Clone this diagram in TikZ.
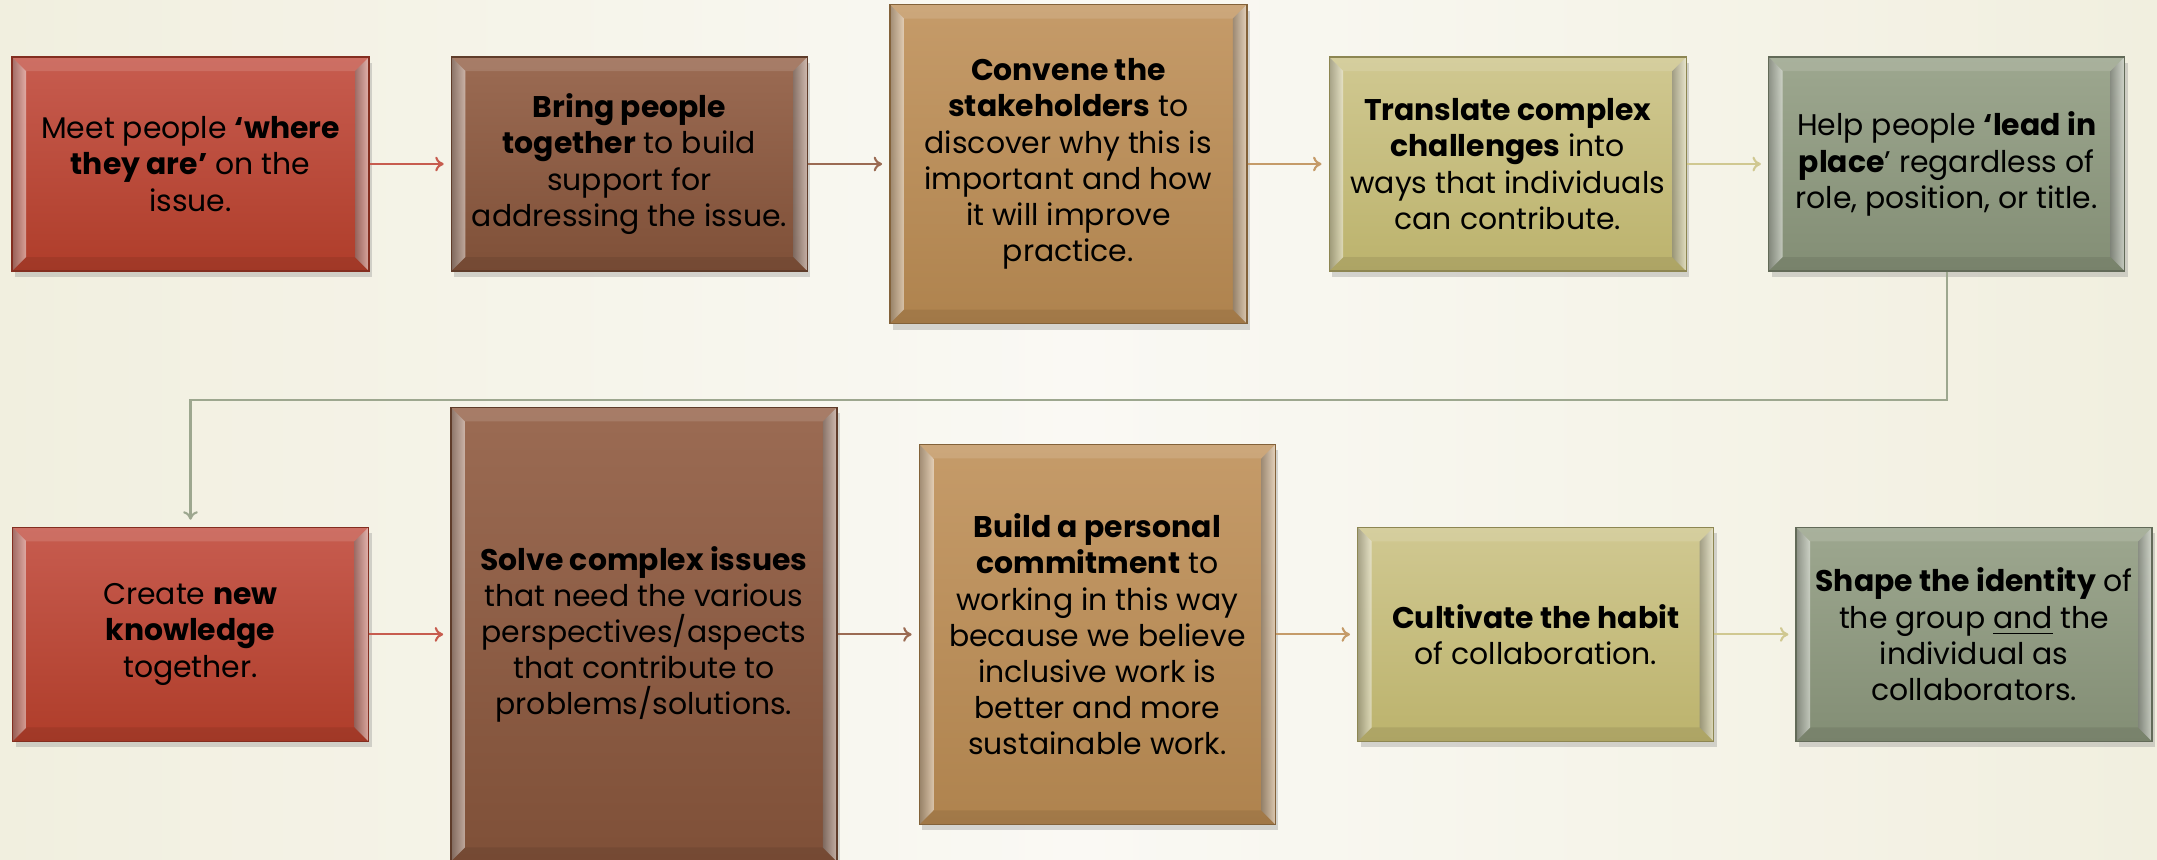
\documentclass[tikz,border=0pt]{standalone}
\usepackage{fontspec}
\setmainfont{Poppins}
\usetikzlibrary{positioning,shadows,arrows.meta}

\definecolor{bgside}{HTML}{F1EFDF}
\definecolor{bgmid}{HTML}{FAF9F4}
\definecolor{red1}{HTML}{C75C4F}\definecolor{red2}{HTML}{AF3D2A}
\definecolor{brown1}{HTML}{9B6B53}\definecolor{brown2}{HTML}{7F5038}
\definecolor{tan1}{HTML}{C59B69}\definecolor{tan2}{HTML}{AF834E}
\definecolor{khaki1}{HTML}{D0C891}\definecolor{khaki2}{HTML}{BCB36D}
\definecolor{sage1}{HTML}{9DA78F}\definecolor{sage2}{HTML}{838E75}

\begin{document}
\begin{tikzpicture}[>={To[length=2.4pt,width=4.2pt]},shorten >=2pt,node distance=8.1mm,
  bevel/.style={path picture={
      \coordinate (nw) at (path picture bounding box.north west);
      \coordinate (ne) at (path picture bounding box.north east);
      \coordinate (sw) at (path picture bounding box.south west);
      \coordinate (se) at (path picture bounding box.south east);
      \coordinate (inw) at ([shift={(1.4mm,-1.4mm)}]nw);
      \coordinate (ine) at ([shift={(-1.4mm,-1.4mm)}]ne);
      \coordinate (isw) at ([shift={(1.4mm,1.4mm)}]sw);
      \coordinate (ise) at ([shift={(-1.4mm,1.4mm)}]se);
      \fill[white,opacity=.12] (nw) -- (ne) -- (ine) -- (inw) -- cycle;
      \fill[black,opacity=.08] (sw) -- (se) -- (ise) -- (isw) -- cycle;
      \shade[left color=black!50,right color=white,opacity=.5] (nw) -- (inw) -- (isw) -- (sw) -- cycle;
      \shade[left color=black!50,right color=white,opacity=.55] (ine) -- (ne) -- (se) -- (ise) -- cycle;
    }},
  box/.style={rectangle,draw,line width=.4pt,minimum width=35.6mm,minimum height=21.4mm,inner sep=0pt,
    align=center,font=\fontsize{8.5}{10.3}\selectfont,text=black,
    drop shadow={opacity=.3,shadow xshift=.3mm,shadow yshift=-.6mm},bevel},
  red box/.style={box,top color=red1,bottom color=red2,draw=red2!75!black},
  brown box/.style={box,top color=brown1,bottom color=brown2,draw=brown2!75!black},
  tan box/.style={box,top color=tan1,bottom color=tan2,draw=tan2!75!black},
  khaki box/.style={box,top color=khaki1,bottom color=khaki2,draw=khaki2!75!black},
  sage box/.style={box,top color=sage1,bottom color=sage2,draw=sage2!75!black},
  link/.style={->,line width=.6pt}]

  % background
  \useasboundingbox (0,0) rectangle (215.7mm,-85.9mm);
  \fill[left color=bgside,right color=bgside,middle color=bgmid] (0,0) rectangle (215.7mm,-85.9mm);

  % top row
  \node[red box,minimum width=35.7mm] (1) at (19.05mm,-16.4mm) {Meet people \textbf{‘where}\\\textbf{they are’} on the\\issue.};
  \node[brown box] (2) [right=of 1] {\textbf{Bring people}\\\textbf{together} to build\\support for\\addressing the issue.};
  \node[tan box,minimum width=35.7mm,minimum height=31.9mm] (3) [right=of 2] {\textbf{Convene the}\\\textbf{stakeholders} to\\discover why this is\\important and how\\it will improve\\practice.};
  \node[khaki box,minimum width=35.7mm] (4) [right=of 3] {\textbf{Translate complex}\\\textbf{challenges} into\\ways that individuals\\can contribute.};
  \node[sage box] (5) [right=of 4] {Help people \textbf{‘lead in}\\\textbf{place}’ regardless of\\role, position, or title.};

  % bottom row
  \node[red box] (6) [below=25.5mm of 1] {Create \textbf{new}\\\textbf{knowledge}\\together.};
  \node[brown box,minimum width=38.6mm,minimum height=45.4mm] (7) [right=of 6] {\textbf{Solve complex issues}\\that need the various\\perspectives/aspects\\that contribute to\\problems/solutions.};
  \node[tan box,minimum height=38mm] (8) [right=of 7] {\textbf{Build a personal}\\\textbf{commitment} to\\working in this way\\because we believe\\inclusive work is\\better and more\\sustainable work.};
  \node[khaki box] (9) [right=of 8] {\textbf{Cultivate the habit}\\of collaboration.};
  \node[sage box] (10) [right=of 9] {\textbf{Shape the identity} of\\the group \underline{and} the\\individual as\\collaborators.};

  \path[link]
    (1) edge[draw=red1] (2)
    (2) edge[draw=brown1] (3)
    (3) edge[draw=tan1] (4)
    (4) edge[draw=khaki1] (5)
    (6) edge[draw=red1] (7)
    (7) edge[draw=brown1] (8)
    (8) edge[draw=tan1] (9)
    (9) edge[draw=khaki1] (10);
  \draw[link,draw=sage1] (5.south) -- ++(0,-12.8mm) -| (6.north);
\end{tikzpicture}
\end{document}
